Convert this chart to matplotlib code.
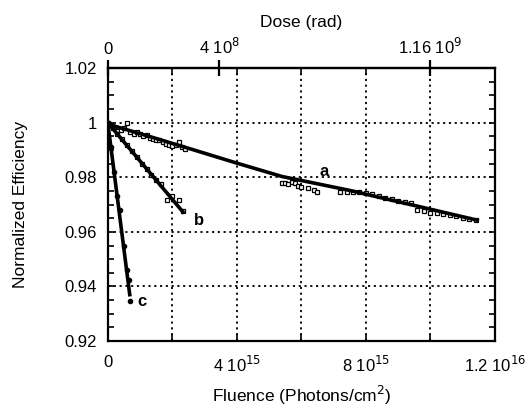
import matplotlib.pyplot as plt
import numpy as np
from matplotlib.ticker import MultipleLocator, FixedLocator

plt.rcParams['font.family'] = ['Liberation Sans', 'DejaVu Sans']

# fluence in units of 1e15 photons/cm2
a_x = [0.0, 0.05, 0.1, 0.2, 0.3, 0.4, 0.5, 0.6, 0.7, 0.8, 0.9, 1.0, 1.1, 1.2, 1.3, 1.4,
       1.5, 1.6, 1.7, 1.8, 1.9, 2.0, 2.1, 2.2, 2.3, 2.4,
       5.4, 5.5, 5.6, 5.7, 5.8, 5.9, 6.0, 6.2, 6.4, 6.5,
       7.2, 7.4, 7.6, 7.8, 8.0, 8.2, 8.4, 8.6, 8.8, 9.0, 9.2, 9.4,
       9.6, 9.8, 10.0, 10.2, 10.4, 10.6, 10.8, 11.0, 11.2, 11.4]
a_y = [1.000, 0.9995, 0.999, 0.998, 0.997, 0.9975, 0.998, 0.9998, 0.9965, 0.996, 0.9965,
       0.9958, 0.995, 0.9955, 0.9945, 0.994, 0.9935, 0.9938, 0.993, 0.9922, 0.992, 0.9915,
       0.9918, 0.9928, 0.991, 0.9905,
       0.978, 0.9778, 0.9775, 0.9782, 0.9778, 0.977, 0.9765, 0.976, 0.9755, 0.9748,
       0.9748, 0.9747, 0.9745, 0.9746, 0.9742, 0.9738, 0.9732, 0.9725, 0.972, 0.9715,
       0.971, 0.9705, 0.968, 0.9675, 0.967, 0.9668, 0.9665, 0.9662, 0.9658, 0.9652,
       0.9648, 0.9643]
a_fit_x = [0, 1, 2.4, 4, 5.4, 7.5, 9.5, 11.45]
a_fit_y = [0.9995, 0.996, 0.991, 0.9852, 0.9803, 0.9752, 0.9697, 0.9643]

b_x = [0.0, 0.15, 0.3, 0.45, 0.6, 0.75, 0.9, 1.05, 1.2, 1.35, 1.5, 1.65, 1.82, 2.0,
       2.21, 2.33]
b_y = [1.000, 0.998, 0.996, 0.994, 0.992, 0.9895, 0.9875, 0.985, 0.983, 0.981, 0.979,
       0.9775, 0.9716, 0.973, 0.9716, 0.9675]
b_fit_x = [0, 2.33]
b_fit_y = [1.0, 0.9673]

c_x = [0.0, 0.1, 0.2, 0.3, 0.39, 0.5, 0.6, 0.66, 0.69]
c_y = [1.000, 0.991, 0.982, 0.973, 0.968, 0.955, 0.946, 0.9424, 0.9348]
c_fit_x = [0, 0.68]
c_fit_y = [1.0, 0.937]

dose_per_fluence = 1.16e-7 * 1e15

fig = plt.figure(figsize=(5.31, 4.08), dpi=100)
ax = fig.add_axes([0.203, 0.164, 0.729, 0.669])

ax.plot(a_x, a_y, ls='none', marker='s', ms=2.5, mfc='white', mec='black', mew=0.9)
ax.plot(b_x, b_y, ls='none', marker='s', ms=2.5, mfc='white', mec='black', mew=0.9)
ax.plot(a_fit_x, a_fit_y, color='black', lw=2.6)
ax.plot(b_fit_x, b_fit_y, color='black', lw=2.6)
ax.plot(c_fit_x, c_fit_y, color='black', lw=2.6)
ax.plot(c_x, c_y, ls='none', marker='o', ms=3, color='black')

ax.text(6.7, 0.982, 'a', fontsize=12, fontweight='bold', ha='center', va='center')
ax.text(2.83, 0.964, 'b', fontsize=12, fontweight='bold', ha='center', va='center')
ax.text(1.05, 0.9345, 'c', fontsize=12, fontweight='bold', ha='center', va='center')

ax.set_xlim(0, 12)
ax.set_ylim(0.92, 1.02)

ax.xaxis.set_major_locator(FixedLocator([0, 2, 4, 6, 8, 10, 12]))
ax.set_xticklabels(['0', '', '4 10$^{15}$', '', '8 10$^{15}$', '', '1.2 10$^{16}$'])
ax.yaxis.set_major_locator(FixedLocator([0.92, 0.94, 0.96, 0.98, 1.0, 1.02]))
ax.yaxis.set_minor_locator(MultipleLocator(0.005))
ax.set_yticklabels(['0.92', '0.94', '0.96', '0.98', '1', '1.02'])
ax.tick_params(axis='x', which='major', direction='in', length=5, width=1.2, labelsize=12, pad=10)
ax.tick_params(axis='y', which='both', direction='in', length=4, width=1.2, labelsize=12,
               right=True, pad=8)

ax.grid(True, which='major', color='black', ls=(0, (1.2, 2)), lw=1.3)
for s in ax.spines.values():
    s.set_linewidth(1.6)

ax.set_xlabel('Fluence (Photons/cm$^2$)', fontsize=12.5, labelpad=6)
ax.set_ylabel('Normalized Efficiency', fontsize=12.5, labelpad=26)

top = ax.secondary_xaxis('top', functions=(lambda f: f * dose_per_fluence,
                                            lambda d: d / dose_per_fluence))
top.xaxis.set_major_locator(FixedLocator([0, 4e8, 1.16e9]))
top.set_xticklabels(['0', '4 10$^8$', '1.16 10$^9$'])
top.xaxis.set_minor_locator(FixedLocator([k * dose_per_fluence for k in [2, 4, 6, 8, 10]]))
top.tick_params(which='major', direction='inout', length=12, width=1.6, labelsize=12, pad=2)
top.tick_params(which='minor', direction='in', length=5, width=1.2)
top.spines['top'].set_linewidth(1.6)
top.set_xlabel('Dose (rad)', fontsize=12.5, labelpad=7)

fig.savefig('out.png', dpi=100)
